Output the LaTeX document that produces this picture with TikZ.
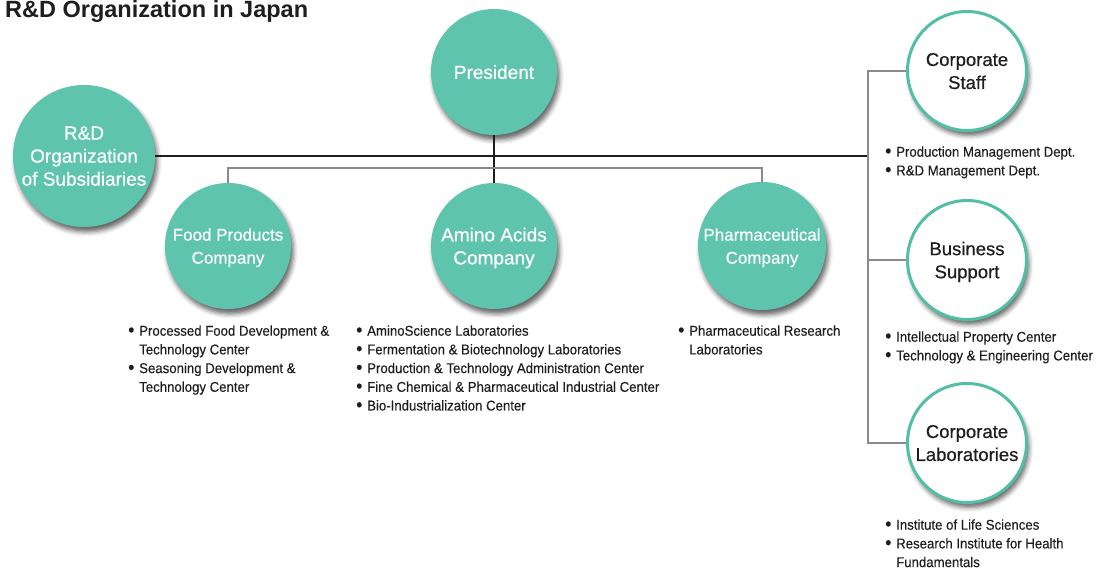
\documentclass[tikz,border=0pt]{standalone}
\usepackage{fontspec}
\setmainfont{Liberation Sans}
\newfontfamily\listfont[FakeStretch=0.93,FakeBold=0.3]{Liberation Sans}
\newfontfamily\unitfont[FakeBold=0.5]{Liberation Sans}
\usetikzlibrary{shadows.blur}

\definecolor{rdteal}{HTML}{5FC4AE}
\definecolor{rdrim}{HTML}{52BEA5}
\definecolor{rdgray}{HTML}{8A8A8A}
\definecolor{rdtext}{HTML}{1E1E1E}

% bullet and hanging indent for the lists
\newcommand{\bul}{\rule{0pt}{10.5pt}\makebox[11pt][l]{\raisebox{-0.6pt}{\fontsize{19}{19}\selectfont\textbullet}}}
\newcommand{\ind}{\rule{0pt}{10.5pt}\hspace*{11pt}}

\tikzset{
	unit/.style={circle, inner sep=0pt, align=center, minimum size=126pt, text depth=0pt,
		font=\unitfont\fontsize{19}{23}\selectfont,
		blur shadow={shadow xshift=2.5pt, shadow yshift=-5pt, shadow blur radius=4.5pt, shadow opacity=60}},
	company/.style={unit, fill=rdteal, text=white},
	staffunit/.style={unit, fill=white, draw=rdrim, line width=3pt, minimum size=119pt, text=rdtext,
		font=\unitfont\fontsize{18.5}{23}\selectfont},
	items/.style={anchor=north west, align=left, inner sep=0pt, text=rdtext,
		font=\listfont\fontsize{14.2}{18.7}\selectfont},
	mainline/.style={rdtext, line width=1.3pt},
	branch/.style={rdgray, line width=1.5pt},
}

\begin{document}
\begin{tikzpicture}[x=1pt,y=-1pt]
	\useasboundingbox (0,0) rectangle (1104,569);
	% title
	\node[anchor=base west, inner sep=0pt, font=\bfseries\fontsize{23.5}{28}\selectfont, text=rdtext] (title) at (5,18) {R\&D Organization in Japan};
	% units
	\node[company] (president) at (494,72) {President};
	\node[company, minimum size=142pt] (rnd) at (84,156) {R\&D\\Organization\\of Subsidiaries};
	\node[company, font=\unitfont\fontsize{17}{23}\selectfont] (food) at (228,246) {Food Products\\Company};
	\node[company] (amino) at (494,246) {Amino Acids\\Company};
	\node[company, minimum size=128pt, font=\unitfont\fontsize{17}{23}\selectfont] (pharma) at (762,246) {Pharmaceutical\\Company};
	\node[staffunit] (staff) at (967,71) {Corporate\\Staff};
	\node[staffunit] (support) at (967,260) {Business\\Support};
	\node[staffunit] (labs) at (967,443) {Corporate\\Laboratories};
	% connectors
	\coordinate (spine) at (868,0);
	\coordinate (bar) at (0,168);
	\draw[mainline] (rnd.east) -- (rnd.east -| spine);
	\draw[mainline] (president.south) -- (amino.north);
	\draw[branch] (food.north) -- (food.north |- bar) -- (pharma.north |- bar) -- (pharma.north);
	\draw[branch] (staff.west) -- (staff.west -| spine) -- (labs.west -| spine) -- (labs.west);
	\draw[branch] (support.west) -- (support.west -| spine);
	% lists
	\node[items] (foodlist) at (128,325) {\bul Processed Food Development \&\\\ind Technology Center\\\bul Seasoning Development \&\\\ind Technology Center};
	\node[items] (aminolist) at (356,325) {\bul AminoScience Laboratories\\\bul Fermentation \& Biotechnology Laboratories\\\bul Production \& Technology Administration Center\\\bul Fine Chemical \& Pharmaceutical Industrial Center\\\bul Bio-Industrialization Center};
	\node[items] (pharmalist) at (678,325) {\bul Pharmaceutical Research\\\ind Laboratories};
	\node[items] (stafflist) at (885,146) {\bul Production Management Dept.\\\bul R\&D Management Dept.};
	\node[items] (supportlist) at (885,331) {\bul Intellectual Property Center\\\bul Technology \& Engineering Center};
	\node[items] (labslist) at (885,519) {\bul Institute of Life Sciences\\\bul Research Institute for Health\\\ind Fundamentals};
\end{tikzpicture}
\end{document}
